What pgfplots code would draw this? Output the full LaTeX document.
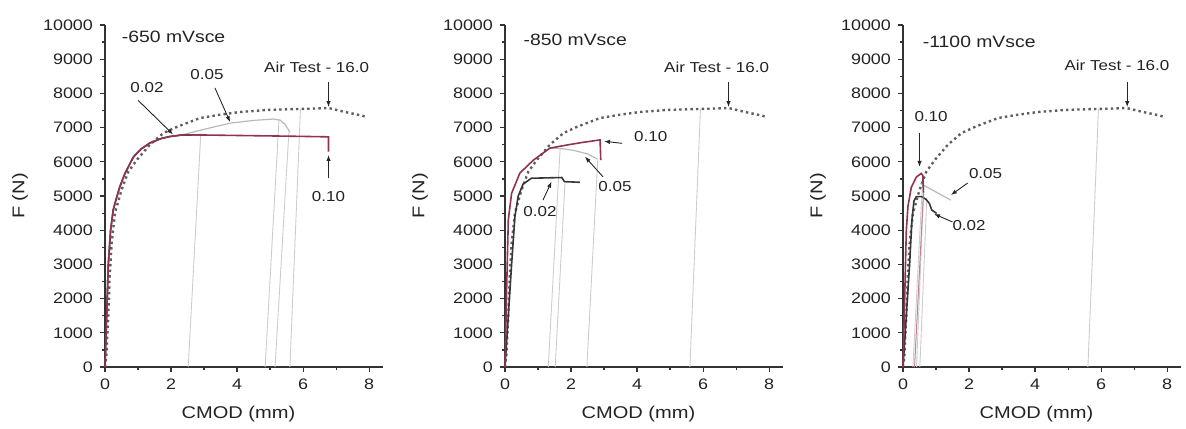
\documentclass[border=0pt]{standalone}
\usepackage{fontspec}
\setmainfont{Liberation Sans}[FakeStretch=1.18]
\usepackage{pgfplots}
\usepackage{pgfplotstable}
\pgfplotsset{compat=1.18}
\usetikzlibrary{arrows.meta}
\definecolor{redc}{RGB}{145,50,80}
\definecolor{darkc}{RGB}{55,55,55}
\definecolor{grayc}{RGB}{185,185,185}
\definecolor{unl}{RGB}{205,205,205}
\definecolor{airc}{RGB}{95,95,95}
\definecolor{txt}{RGB}{35,35,35}

\pgfplotstableread{
x y
0 0
0.04 300
0.1 1500
0.14 2600
0.2 3600
0.3 4500
0.5 5175
0.7 5700
0.96 6050
1.36 6500
1.77 6840
2.2 7030
2.88 7280
3.5 7380
4.09 7456
4.9 7515
5.5 7535
6.12 7550
6.77 7573
7.3 7450
7.6 7390
7.94 7310
}\air

\pgfplotsset{panel/.style={
 scale only axis, width=139pt, height=171pt,
 xmin=0, xmax=8.42, ymin=0, ymax=10000,
 axis x line=bottom, axis y line=left,
 axis line style={-, line width=0.6pt, color=black!80},
 xtick={0,2,4,6,8}, minor x tick num=1,
 ytick={0,1000,...,10000}, minor y tick num=1,
 scaled y ticks=false, scaled x ticks=false,
 tick align=outside, major tick length=2.5pt, minor tick length=1.5pt,
 tick style={line width=0.6pt, black!80},
 tick label style={font=\fontsize{7.6}{9}\selectfont, text=txt},
 yticklabel style={/pgf/number format/assume math mode=true, /pgf/number format/set thousands separator={}, /pgf/number format/fixed},
 xticklabel style={/pgf/number format/assume math mode=true},
 xlabel={CMOD (mm)}, ylabel={F (N)},
 label style={font=\fontsize{8.5}{10}\selectfont, text=txt},
 xlabel style={at={(axis description cs:0.48,-0.137)}, anchor=center},
 ylabel style={at={(axis description cs:-0.306,0.5)}, anchor=center},
 clip=false,
},
airstyle/.style={color=airc, line width=1.2pt, dash pattern=on 1.2pt off 1.6pt},
unlstyle/.style={color=unl, line width=0.45pt},
}
\tikzset{
ann/.style={font=\fontsize{7.2}{8}\selectfont, text=txt},
arr/.style={-{Latex[length=3pt,width=2.2pt]}, line width=0.45pt, black!85},
}

\begin{document}
\begin{tikzpicture}
\path[use as bounding box] (-52.5pt,-30.5pt) rectangle (540.5pt,183.5pt);

% ---------- Panel 1 : -650 mVsce ----------
\begin{axis}[panel, at={(0pt,0pt)}, anchor=south west]
\addplot[unlstyle] coordinates {(2.52,0) (2.9,6790)};
\addplot[unlstyle] coordinates {(4.85,0) (5.27,7240)};
\addplot[unlstyle] coordinates {(5.15,0) (5.57,6880)};
\addplot[unlstyle] coordinates {(5.6,0) (5.92,7545)};
\addplot[airstyle] table {\air};
\addplot[color=grayc, line width=0.6pt] coordinates {(2.3,6780) (3.0,6950) (3.79,7130) (4.5,7210) (5.1,7250) (5.3,7220) (5.45,7100) (5.6,6870)};
\addplot[color=darkc, line width=0.8pt] coordinates {(0,0) (0.05,1500) (0.1,3000) (0.17,4000) (0.25,4600) (0.35,4950) (0.45,5270) (0.6,5650) (0.86,6140) (1.1,6380) (1.36,6550) (1.7,6680) (1.97,6740) (2.3,6780) (2.9,6790)};
\addplot[color=redc, line width=0.8pt] coordinates {(0,0) (0.05,1500) (0.1,3000) (0.17,4000) (0.25,4600) (0.35,4950) (0.45,5270) (0.6,5650) (0.86,6140) (1.1,6380) (1.36,6550) (1.7,6680) (1.97,6740) (2.3,6780) (2.5,6790) (4.0,6770) (5.5,6750) (6.77,6730) (6.77,6300)};
\node[anchor=west, font=\fontsize{8.2}{9}\selectfont, text=txt] at (axis cs:0.3,9650) {-650 mVsce};
\node[ann] at (axis cs:6.41,8772) {Air Test - 16.0};
\draw[arr] (axis cs:6.77,8333) -- (axis cs:6.77,7600);
\node[ann] at (axis cs:3.09,8540) {0.05};
\draw[arr] (axis cs:3.33,8160) -- (axis cs:3.79,7160);
\node[ann] at (axis cs:1.27,8160) {0.02};
\draw[arr] (axis cs:1.0,7800) -- (axis cs:2.06,6800);
\node[ann] at (axis cs:6.77,4970) {0.10};
\draw[arr] (axis cs:6.77,5520) -- (axis cs:6.77,6200);
\end{axis}

% ---------- Panel 2 : -850 mVsce ----------
\begin{axis}[panel, at={(200pt,0pt)}, anchor=south west]
\addplot[unlstyle] coordinates {(1.31,0) (1.67,6400)};
\addplot[unlstyle] coordinates {(1.52,0) (1.82,5420)};
\addplot[unlstyle] coordinates {(2.48,0) (2.81,6080)};
\addplot[unlstyle] coordinates {(5.6,0) (5.92,7545)};
\addplot[airstyle] table {\air};
\addplot[color=grayc, line width=0.6pt] coordinates {(1.36,6400) (1.7,6390) (2.1,6330) (2.5,6230) (2.8,6080)};
\addplot[color=darkc, line width=0.8pt] coordinates {(0,0) (0.1,1500) (0.2,3000) (0.3,4400) (0.4,5000) (0.55,5350) (0.8,5520) (1.72,5540) (1.8,5420) (2.27,5400)};
\addplot[color=redc, line width=0.8pt] coordinates {(0,0) (0.05,2300) (0.1,4300) (0.2,5080) (0.45,5670) (0.86,6050) (1.36,6400) (1.87,6490) (2.37,6570) (2.88,6640) (2.9,6050)};
\node[anchor=west, font=\fontsize{8.2}{9}\selectfont, text=txt] at (axis cs:0.35,9560) {-850 mVsce};
\node[ann] at (axis cs:6.41,8770) {Air Test - 16.0};
\draw[arr] (axis cs:6.77,8333) -- (axis cs:6.77,7600);
\node[ann, anchor=west] at (axis cs:3.7,6730) {0.10};
\draw[arr] (axis cs:3.55,6540) -- (axis cs:3.0,6600);
\node[ann] at (axis cs:3.33,5270) {0.05};
\draw[arr] (axis cs:2.97,5560) -- (axis cs:2.42,6150);
\node[ann] at (axis cs:1.06,4540) {0.02};
\draw[arr] (axis cs:1.15,4880) -- (axis cs:1.41,5420);
\end{axis}

% ---------- Panel 3 : -1100 mVsce ----------
\begin{axis}[panel, at={(399pt,0pt)}, anchor=south west]
\addplot[unlstyle] coordinates {(0.3,0) (0.6,5600)};
\addplot[unlstyle] coordinates {(0.41,0) (0.63,5300)};
\addplot[unlstyle] coordinates {(0.51,0) (0.72,4950)};
\addplot[unlstyle] coordinates {(5.6,0) (5.92,7545)};
\addplot[airstyle] table {\air};
\addplot[color=grayc, line width=0.6pt] coordinates {(0.52,5370) (1.45,4880)};
\addplot[color=darkc, line width=0.8pt] coordinates {(0,0) (0.1,1500) (0.2,3000) (0.27,4300) (0.33,4850) (0.4,4980) (0.57,4980) (0.7,4900) (0.8,4780) (0.87,4590) (1.02,4490)};
\addplot[color=redc!60, line width=0.5pt] coordinates {(0.62,5100) (0.35,0)};
\addplot[color=redc, line width=0.8pt] coordinates {(0,0) (0.05,2000) (0.1,4000) (0.15,4700) (0.25,5250) (0.4,5550) (0.55,5660) (0.6,5600) (0.62,5100)};
\node[anchor=west, font=\fontsize{8.2}{9}\selectfont, text=txt] at (axis cs:0.39,9500) {-1100 mVsce};
\node[ann] at (axis cs:6.48,8830) {Air Test - 16.0};
\draw[arr] (axis cs:6.79,8333) -- (axis cs:6.79,7600);
\node[ann] at (axis cs:0.85,7310) {0.10};
\draw[arr] (axis cs:0.5,6840) -- (axis cs:0.5,5850);
\node[ann] at (axis cs:2.5,5670) {0.05};
\draw[arr] (axis cs:1.96,5380) -- (axis cs:1.45,5030);
\node[ann] at (axis cs:2.0,4130) {0.02};
\draw[arr] (axis cs:1.5,4240) -- (axis cs:0.94,4474);
\end{axis}
\end{tikzpicture}
\end{document}
